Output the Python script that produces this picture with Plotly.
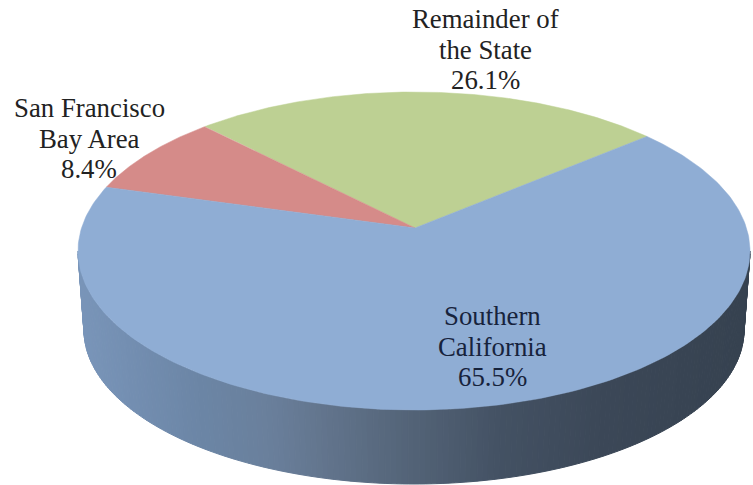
import numpy as np
import plotly.graph_objects as go

categories = ["Remainder of the State", "San Francisco Bay Area", "Southern California"]
shares = [26.1, 8.4, 65.5]
slice_colors = ["#BDD093", "#D58B89", "#8FADD4"]
label_lines = [["Remainder of", "the State", "26.1%"],
               ["San Francisco", "Bay Area", "8.4%"],
               ["Southern", "California", "65.5%"]]
label_colors = ["#222222", "#222222", "#17233c"]
label_cx = [485, 89, 492]
label_first_baseline = [29, 118, 326]
LINE_STEP = 30.5
FONT_PX = 26.8

# Projection of the pie (screen pixels)
TOP = dict(cx=414, cy=251, rx=336, ry=159)
BOT = dict(cx=414, cy=330, rx=330, ry=154)
PERSP = 0.145
START_DEG = 40.0
side_x = [78, 130, 200, 270, 330, 410, 500, 600, 750]
side_r = [122, 116, 108, 106, 98, 84, 68, 60, 54]
side_g = [150, 143, 134, 128, 116, 100, 82, 72, 66]
side_b = [186, 178, 166, 156, 140, 120, 100, 88, 80]


def project(theta, e, persp=PERSP):
    c, s = np.cos(theta), np.sin(theta)
    d = 1 + persp * s
    x = c * np.sqrt(1 - persp ** 2) / d
    y = (s + persp) / d
    return e["cx"] + e["rx"] * x, e["cy"] - e["ry"] * y


fig = go.Figure()

# Side wall, shaded by horizontal position
edges = np.linspace(np.pi, 2 * np.pi, 181)
for a0, a1 in zip(edges[:-1], edges[1:]):
    th = np.array([a0, a1])
    c0, s0 = np.cos(th), np.sin(th)
    tx = TOP["cx"] + TOP["rx"] * c0
    ty = TOP["cy"] - TOP["ry"] * s0
    bx = BOT["cx"] + BOT["rx"] * c0
    by = BOT["cy"] - BOT["ry"] * s0
    mid = (tx.mean() + bx.mean()) / 2
    col = "rgb(%d,%d,%d)" % (np.interp(mid, side_x, side_r),
                             np.interp(mid, side_x, side_g),
                             np.interp(mid, side_x, side_b))
    fig.add_trace(go.Scatter(
        x=[tx[0], tx[1], bx[1], bx[0], tx[0]],
        y=[ty[0], ty[1], by[1], by[0], ty[0]],
        mode="lines", fill="toself", fillcolor=col,
        line=dict(color=col, width=1), hoverinfo="skip", showlegend=False))

# Top surface slices, drawn from the shares
start = np.deg2rad(START_DEG)
total = sum(shares)
apex_x, apex_y = TOP["cx"] + 1, TOP["cy"] - TOP["ry"] * PERSP
for name, share, color in zip(categories, shares, slice_colors):
    end = start + 2 * np.pi * share / total
    th = np.linspace(start, end, 240)
    ax, ay = project(th, TOP)
    fig.add_trace(go.Scatter(
        x=np.r_[apex_x, ax, apex_x], y=np.r_[apex_y, ay, apex_y],
        mode="lines", fill="toself", fillcolor=color,
        line=dict(color=color, width=0.5), name=name,
        hoverinfo="name", showlegend=False))
    start = end

fig.update_layout(
    width=753, height=485, margin=dict(l=0, r=0, t=0, b=0),
    paper_bgcolor="white", plot_bgcolor="white", showlegend=False,
    xaxis=dict(range=[0, 753], visible=False, fixedrange=True),
    yaxis=dict(range=[485, 0], visible=False, fixedrange=True),
)

for lines, col, cx, base in zip(label_lines, label_colors, label_cx, label_first_baseline):
    for i, line in enumerate(lines):
        fig.add_annotation(
            x=cx, y=base + i * LINE_STEP, text=line, showarrow=False,
            xanchor="center", yanchor="bottom", yshift=-7,
            font=dict(family="Liberation Serif", size=FONT_PX, color=col))

fig.write_html("out.html", config={"displayModeBar": False},
               post_script="document.body.style.margin='0';")
